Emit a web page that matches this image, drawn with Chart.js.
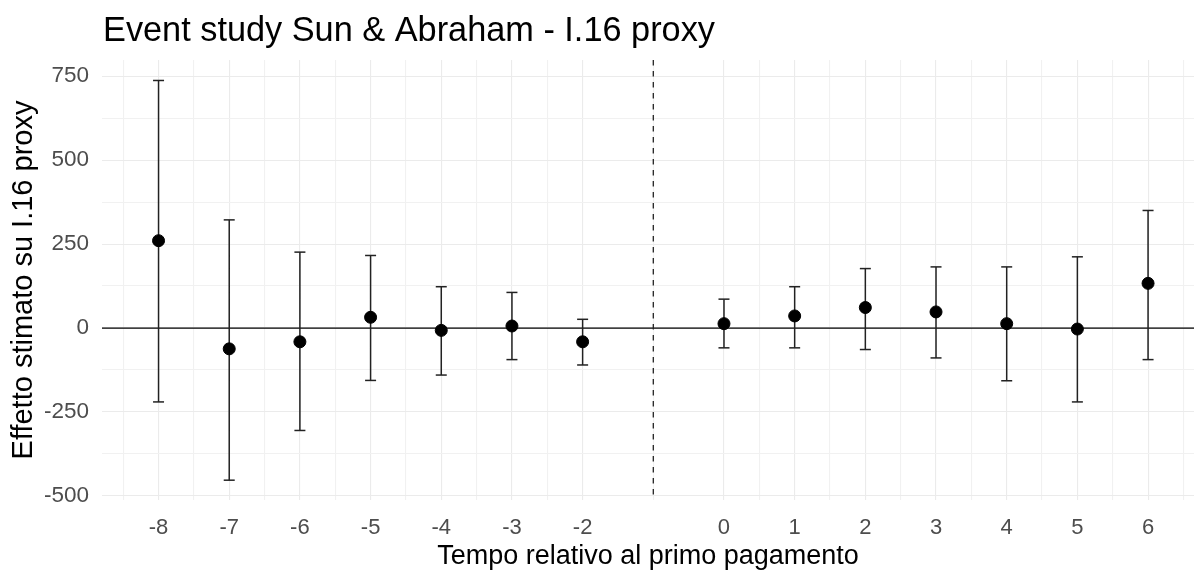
<!DOCTYPE html>
<html>
<head>
<meta charset="utf-8">
<script src="https://cdn.jsdelivr.net/npm/chart.js@4.4.0/dist/chart.umd.min.js"></script>
<style>
  html, body { margin: 0; padding: 0; background: #fff; }
  #wrap { position: relative; width: 1194px; height: 571px; }
</style>
</head>
<body>
<div id="wrap"><canvas id="es-chart"></canvas></div>
<script>
// relative period, estimate and confidence bounds
var periods = [-8, -7, -6, -5, -4, -3, -2, 0, 1, 2, 3, 4, 5, 6];
var estimates = [260, -62, -41, 32, -7, 6, -41, 13, 36, 61, 48, 13, -3, 133];
var lowerCI = [-220, -453, -305, -156, -140, -94, -110, -59, -59, -64, -89, -157, -220, -94];
var upperCI = [737, 322, 226, 216, 123, 106, 26, 86, 123, 177, 182, 182, 212, 350];
var yBreaks = [-500, -250, 0, 250, 500, 750];
var eventTime = -1;

var FONT = '"Liberation Sans", Arial, sans-serif';

// minor breaks halfway between major ones (like ggplot)
var xMinor = [periods[0] - 0.5];
for (var i = 0; i < periods.length - 1; i++) xMinor.push((periods[i] + periods[i + 1]) / 2);
xMinor.push(periods[periods.length - 1] + 0.5);
var xTicks = periods.concat(xMinor).sort(function (a, b) { return a - b; });

var yMinor = [];
for (var j = 0; j < yBreaks.length - 1; j++) yMinor.push((yBreaks[j] + yBreaks[j + 1]) / 2);
var yTicks = yBreaks.concat(yMinor).sort(function (a, b) { return a - b; });

var pointData = periods.map(function (p, k) { return { x: p, y: estimates[k] }; });
var whiskers = [];
var caps = [];
periods.forEach(function (p, k) {
  whiskers.push({ x: p, y: lowerCI[k] }, { x: p, y: upperCI[k] }, { x: p, y: null });
  caps.push({ x: p, y: lowerCI[k] }, { x: p, y: upperCI[k] });
});

var refLines = {
  id: 'refLines',
  beforeDatasetsDraw: function (chart) {
    var ctx = chart.ctx, a = chart.chartArea;
    var xs = chart.scales.x, ys = chart.scales.y;
    ctx.save();
    ctx.strokeStyle = '#000';
    ctx.lineWidth = 1.3;
    var y0 = ys.getPixelForValue(0);
    ctx.beginPath();
    ctx.moveTo(a.left, y0);
    ctx.lineTo(a.right, y0);
    ctx.stroke();
    ctx.strokeStyle = '#222';
    ctx.setLineDash([5.5, 5.5]);
    var xv = xs.getPixelForValue(eventTime);
    ctx.beginPath();
    ctx.moveTo(xv, a.top);
    ctx.lineTo(xv, a.bottom);
    ctx.stroke();
    ctx.restore();
  }
};

var plotTitle = {
  id: 'plotTitle',
  afterDraw: function (chart) {
    var ctx = chart.ctx;
    ctx.save();
    ctx.fillStyle = '#000';
    ctx.font = '34.3px ' + FONT;
    ctx.textBaseline = 'alphabetic';
    ctx.textAlign = 'left';
    ctx.fillText('Event study Sun & Abraham - I.16 proxy', chart.chartArea.left + 1, 41);
    ctx.restore();
  }
};

function gridColor(c) {
  return Number.isInteger(c.tick.value) && (c.scale.axis === 'x' ? c.tick.value !== eventTime : yBreaks.indexOf(c.tick.value) >= 0)
    ? '#ebebeb' : '#f1f1f1';
}

var config = {
  type: 'scatter',
  data: {
    datasets: [
      {
        label: 'Stima',
        data: pointData,
        backgroundColor: '#000',
        borderColor: '#000',
        pointRadius: 6,
        pointHoverRadius: 6
      },
      {
        label: 'cap',
        data: caps,
        pointStyle: 'line',
        pointRadius: 5.5,
        pointHoverRadius: 5.5,
        borderColor: '#222',
        borderWidth: 1.5
      },
      {
        type: 'line',
        label: 'IC',
        data: whiskers,
        borderColor: '#222',
        borderWidth: 1.5,
        pointRadius: 0,
        spanGaps: false,
        fill: false
      }
    ]
  },
  options: {
    responsive: true,
    maintainAspectRatio: false,
    animation: false,
    layout: { autoPadding: false, padding: { top: 60, left: 0, right: 0, bottom: 0 } },
    plugins: {
      legend: { display: false },
      tooltip: { enabled: false },
      title: { display: false }
    },
    scales: {
      x: {
        type: 'linear',
        min: -8.8,
        max: 6.65,
        border: { display: false },
        grid: { color: gridColor, lineWidth: 1.1, drawTicks: false },
        afterBuildTicks: function (s) { s.ticks = xTicks.map(function (v) { return { value: v }; }); },
        afterFit: function (s) { s.height = 71; s.paddingLeft = 0; s.paddingRight = 0; },
        ticks: {
          autoSkip: false,
          maxRotation: 0,
          padding: 15,
          color: '#4d4d4d',
          font: { family: FONT, size: 22 },
          callback: function (v) { return periods.indexOf(v) >= 0 ? String(v) : ''; }
        },
        title: {
          display: true,
          text: 'Tempo relativo al primo pagamento',
          color: '#000',
          font: { family: FONT, size: 27, lineHeight: 1 },
          padding: { top: 0, bottom: 1 }
        }
      },
      y: {
        min: -512,
        max: 798,
        border: { display: false },
        grid: { color: gridColor, lineWidth: 1.1, drawTicks: false },
        afterBuildTicks: function (s) { s.ticks = yTicks.map(function (v) { return { value: v }; }); },
        afterFit: function (s) { s.width = 102; s.paddingTop = 0; s.paddingBottom = 0; },
        ticks: {
          autoSkip: false,
          padding: 13,
          color: '#4d4d4d',
          font: { family: FONT, size: 22.5 },
          callback: function (v) { return yBreaks.indexOf(v) >= 0 ? String(v) : ''; }
        },
        title: {
          display: true,
          text: 'Effetto stimato su I.16 proxy',
          color: '#000',
          font: { family: FONT, size: 29, lineHeight: 1 },
          padding: { top: 9, bottom: 0 }
        }
      }
    }
  },
  plugins: [refLines, plotTitle]
};

var ctx = document.getElementById('es-chart').getContext('2d');
var esChart = new Chart(ctx, config);
</script>
</body>
</html>
